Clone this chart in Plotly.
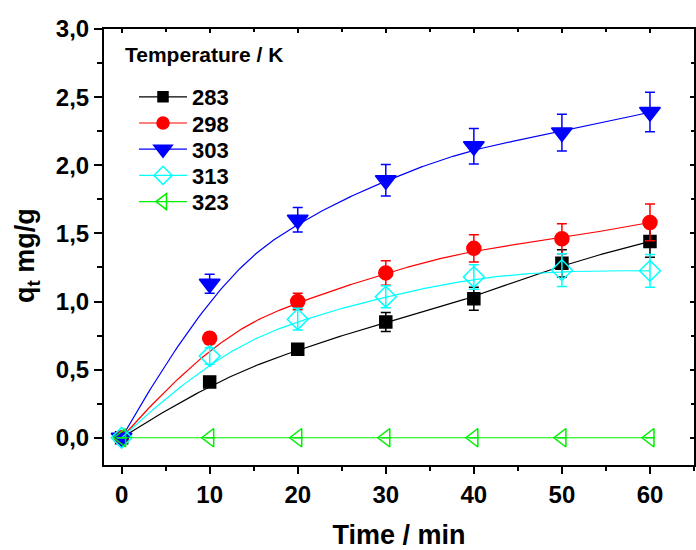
import numpy as np
import plotly.graph_objects as go

time_min = [0, 10, 20, 30, 40, 50, 60]
temps = ["283", "298", "303", "313", "323"]
q_283 = [0, 0.41, 0.65, 0.85, 1.02, 1.28, 1.44]
q_298 = [0, 0.73, 1.00, 1.21, 1.39, 1.46, 1.58]
q_303 = [0, 1.13, 1.60, 1.89, 2.14, 2.24, 2.39]
q_313 = [0, 0.60, 0.87, 1.035, 1.18, 1.23, 1.225]
q_323 = [0, 0, 0, 0, 0, 0, 0]
err_283 = [0, 0.03, 0.04, 0.07, 0.085, 0.10, 0.115]
err_298 = [0, 0.04, 0.06, 0.09, 0.10, 0.11, 0.135]
err_303 = [0, 0.07, 0.09, 0.115, 0.13, 0.135, 0.145]
err_313 = [0, 0.06, 0.08, 0.08, 0.09, 0.12, 0.12]
err_323 = [0, 0, 0, 0, 0, 0, 0]

colors = ["#000000", "#ff0000", "#0000ff", "#00ffff", "#00ee00"]
symbols = ["square", "circle", "triangle-down", "diamond-open", "triangle-left-open"]
sizes = [12, 14, 18, 16, 16]
series = [q_283, q_298, q_303, q_313, q_323]
errors = [err_283, err_298, err_303, err_313, err_323]

# plot-area geometry (pixels)
W, H = 696, 550
ML, MR, MT, MB = 104, 2, 29, 85
PW, PH = W - ML - MR, H - MT - MB


def bspline(px, py, n=300):
    """Clamped cubic B-spline using the data points as control points."""
    px = np.asarray(px, float)
    py = np.asarray(py, float)
    k = 3
    m = len(px)
    knots = np.concatenate([[0] * k, np.arange(m - k + 1), [m - k] * k]).astype(float)
    t = np.linspace(0, m - k, n)
    t[-1] -= 1e-9
    B = np.zeros((n, len(knots) - 1))
    for i in range(len(knots) - 1):
        B[:, i] = ((t >= knots[i]) & (t < knots[i + 1])).astype(float)
    for d in range(1, k + 1):
        Bn = np.zeros((n, len(knots) - 1 - d))
        for i in range(len(knots) - 1 - d):
            a = knots[i + d] - knots[i]
            b = knots[i + d + 1] - knots[i + 1]
            term = np.zeros(n)
            if a > 0:
                term += (t - knots[i]) / a * B[:, i]
            if b > 0:
                term += (knots[i + d + 1] - t) / b * B[:, i + 1]
            Bn[:, i] = term
        B = Bn
    return B @ px, B @ py


fig = go.Figure()
legend_layouts = {}
for idx, (name, q, e, c, s, sz) in enumerate(zip(temps, series, errors, colors, symbols, sizes)):
    cx, cy = bspline(time_min, q)
    fig.add_trace(go.Scatter(x=cx, y=cy, mode="lines", line=dict(color=c, width=1.2),
                             showlegend=False, hoverinfo="skip"))
    fig.add_trace(go.Scatter(
        x=time_min, y=q, mode="markers", name=name,
        marker=dict(symbol=s, size=sz, color=c, line=dict(color=c, width=1.5)),
        error_y=dict(type="data", array=e, visible=True, color=c, thickness=1.5, width=5),
        showlegend=False,
    ))
    lg = "legend" if idx == 0 else f"legend{idx + 1}"
    fig.add_trace(go.Scatter(
        x=[None], y=[None], mode="lines+markers", name=name, legend=lg,
        marker=dict(symbol=s, size=sz - 2, color=c, line=dict(color=c, width=1.5)),
        line=dict(color=c, width=1.2),
    ))
    yc = 97 + 26.2 * idx  # centre of the entry in pixels from top
    legend_layouts[lg] = dict(
        x=(134 - ML) / PW, y=(MT + PH - yc) / PH, xanchor="left", yanchor="middle",
        bgcolor="rgba(0,0,0,0)", font=dict(size=22, weight="bold"), itemwidth=48,
    )

# invisible trace for mirrored axes
fig.add_trace(go.Scatter(x=[0], y=[0], xaxis="x2", yaxis="y2", mode="markers",
                         marker=dict(opacity=0), showlegend=False, hoverinfo="skip"))

font_family = "Liberation Sans, Arial, sans-serif"
fig.update_layout(
    width=W, height=H,
    margin=dict(l=ML, r=MR, t=MT, b=MB),
    paper_bgcolor="white", plot_bgcolor="white",
    separators=", ",
    font=dict(family=font_family, color="black"),
    showlegend=True,
    annotations=[
        dict(text="Temperature / K", xref="paper", yref="paper", x=(123 - ML) / PW,
             y=(MT + PH - 55) / PH, xanchor="left", yanchor="middle", showarrow=False,
             font=dict(size=21, weight="bold")),
        dict(text="q<sub>t</sub> mg/g", xref="paper", yref="paper", x=-(ML - 27) / PW,
             y=(MT + PH - 256) / PH, xanchor="center", yanchor="middle", showarrow=False,
             textangle=-90, font=dict(size=27, weight="bold")),
    ],
    xaxis=dict(
        range=[-2, 65], tickvals=[0, 10, 20, 30, 40, 50, 60], automargin=False,
        ticks="outside", ticklen=7, tickwidth=1.5, tickcolor="black",
        showline=True, linewidth=2, linecolor="black",
        showgrid=False, zeroline=False,
        tickfont=dict(size=24, weight="bold"),
        minor=dict(dtick=5, tick0=0, ticks="outside", ticklen=4, tickwidth=1.5, tickcolor="black"),
        title=dict(text="Time / min", font=dict(size=27, weight="bold"), standoff=18),
    ),
    yaxis=dict(
        range=[-0.2, 3.0], dtick=0.5, tick0=0, tickformat=".1f", automargin=False,
        ticks="outside", ticklen=8, tickwidth=1.5, tickcolor="black",
        showline=True, linewidth=2, linecolor="black",
        showgrid=False, zeroline=False,
        tickfont=dict(size=24, weight="bold"),
        minor=dict(dtick=0.25, tick0=0, ticks="outside", ticklen=5, tickwidth=1.5, tickcolor="black"),
    ),
    xaxis2=dict(
        range=[-2, 65], overlaying="x", side="top", anchor="y", automargin=False,
        tickvals=[0, 10, 20, 30, 40, 50, 60], showticklabels=False,
        ticks="inside", ticklen=4, tickwidth=1.5, tickcolor="black",
        showline=True, linewidth=2, linecolor="black", showgrid=False, zeroline=False,
        minor=dict(dtick=5, tick0=0, ticks="inside", ticklen=3, tickwidth=1.5, tickcolor="black"),
    ),
    yaxis2=dict(
        range=[-0.2, 3.0], overlaying="y", side="right", anchor="x", automargin=False,
        dtick=0.5, tick0=0, showticklabels=False,
        ticks="inside", ticklen=4, tickwidth=1.5, tickcolor="black",
        showline=True, linewidth=2, linecolor="black", showgrid=False, zeroline=False,
        minor=dict(dtick=0.25, tick0=0, ticks="inside", ticklen=3, tickwidth=1.5, tickcolor="black"),
    ),
    **legend_layouts,
)

fig.write_html(
    "out.html",
    config={"displayModeBar": False},
    post_script="document.body.style.margin='0';document.body.style.overflow='hidden';",
)
